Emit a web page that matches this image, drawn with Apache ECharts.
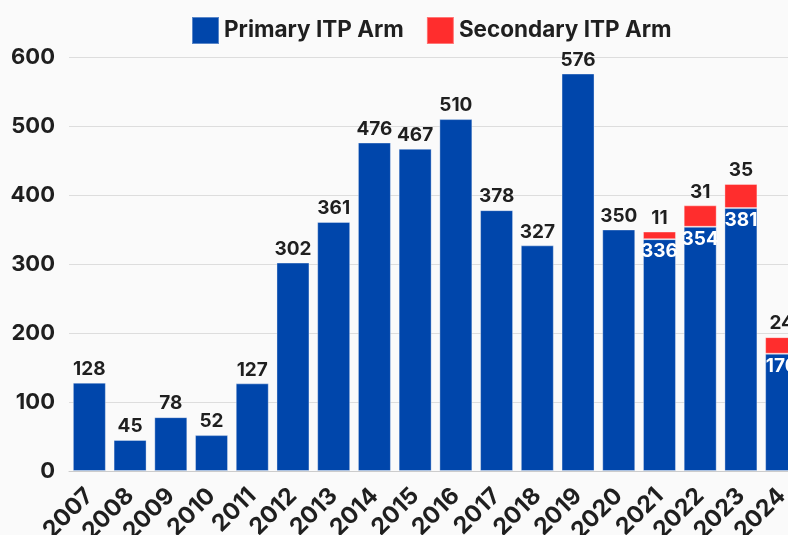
<!DOCTYPE html>
<html><head><meta charset="utf-8">
<script src="https://cdn.jsdelivr.net/npm/echarts@6/dist/echarts.min.js"></script>
<style>html,body{margin:0;padding:0;background:#fafafa}#c{width:788px;height:535px}</style>
</head><body><div id="c"></div>
<script>
const years = ['2007','2008','2009','2010','2011','2012','2013','2014','2015','2016','2017','2018','2019','2020','2021','2022','2023','2024'];
const primary = [128,45,78,52,127,302,361,476,467,510,378,327,576,350,336,354,381,170];
const secondary = [null,null,null,null,null,null,null,null,null,null,null,null,null,null,11,31,35,24];
const yTicks = [0,100,200,300,400,500,600];

const FONT = 'Inter';
const primaryData = primary.map((v,i)=>{
  const hasSec = secondary[i] != null;
  return {value:v, label: hasSec
    ? {position:'insideTop', color:'#ffffff', distance:3}
    : {position:'top', color:'#1f1f1f', distance:4}};
});
const chart = echarts.init(document.getElementById('c'), null, {renderer:'canvas'});
chart.setOption({
  backgroundColor:'#fafafa',
  animation:false,
  legend:{
    left:191, top:16, padding:0, itemWidth:27, itemHeight:27, itemGap:22,
    icon:'rect',
    textStyle:{fontFamily:FONT, fontWeight:'bold', fontSize:22.5, color:'#1f1f1f'},
    data:['Primary ITP Arm','Secondary ITP Arm']
  },
  grid:{left:69, right:-14, top:57, bottom:64, containLabel:false, outerBoundsMode:'none'},
  xAxis:{
    type:'category', data:years,
    axisLine:{lineStyle:{color:'#cccccc', width:1}},
    axisTick:{show:false},
    axisLabel:{rotate:45, interval:0, margin:21, fontFamily:FONT, fontWeight:'bold', fontSize:23.5, color:'#1f1f1f'}
  },
  yAxis:{
    type:'value', min:0, max:600, interval:100,
    axisLine:{show:false}, axisTick:{show:false},
    splitLine:{lineStyle:{color:'#dddddd', width:1}},
    axisLabel:{margin:14, fontFamily:FONT, fontWeight:'bold', fontSize:22, color:'#1f1f1f',
      formatter:(v)=> yTicks.includes(v) ? String(v) : ''}
  },
  series:[
    {name:'Primary ITP Arm', type:'bar', stack:'s', data:primaryData, barCategoryGap:'19%',
      itemStyle:{color:'#0046AB', borderColor:'rgba(255,255,255,0.35)', borderWidth:1},
      label:{show:true, fontFamily:FONT, fontWeight:'bold', fontSize:19}},
    {name:'Secondary ITP Arm', type:'bar', stack:'s', data:secondary, barCategoryGap:'19%',
      itemStyle:{color:'#FF2D2D', borderColor:'rgba(255,255,255,0.35)', borderWidth:1},
      label:{show:true, position:'top', distance:4, color:'#1f1f1f', fontFamily:FONT, fontWeight:'bold', fontSize:19}}
  ]
});
</script></body></html>
